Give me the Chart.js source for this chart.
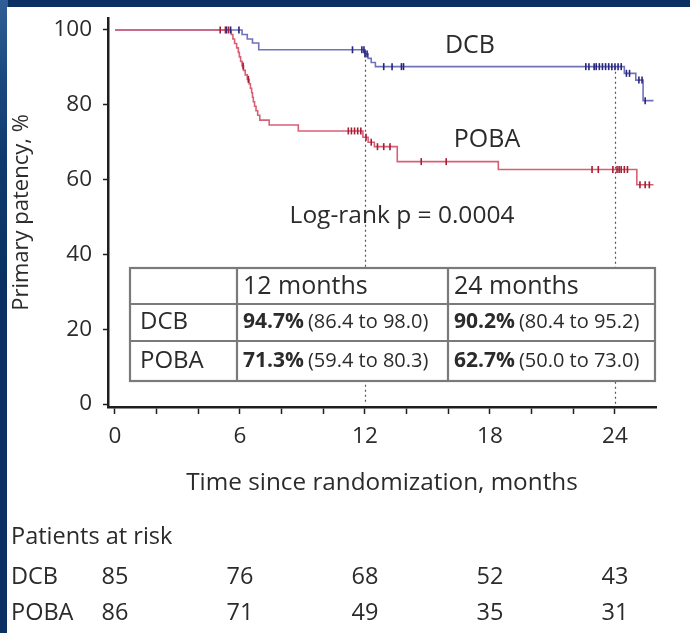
<!DOCTYPE html>
<html>
<head>
<meta charset="utf-8">
<script src="https://cdn.jsdelivr.net/npm/chart.js@4.4.1/dist/chart.umd.min.js"></script>
<style>
  html, body { margin: 0; padding: 0; }
  body { width: 690px; height: 633px; overflow: hidden; position: relative; background: #0b3163; }
  #edge { position: absolute; left: 0; top: 0; width: 8px; height: 633px;
          background: linear-gradient(170deg, #2f5f96 0%, #1b4a80 12%, #0f3a6e 25%, #0b3163 45%, #0b3163 100%); }
  #panel { position: absolute; left: 7px; top: 7px; right: 0; bottom: 0; background: #ffffff; }
  #wrap { position: absolute; left: 0; top: 0; width: 690px; height: 633px; }
</style>
</head>
<body>
<div id="edge"></div>
<div id="panel"></div>
<div id="wrap"><canvas id="km" width="690" height="633"></canvas></div>
<script>
// Kaplan-Meier estimates: month of each step and survival (%) after the step
const dcbMonths = [0, 6.1, 6.35, 6.6, 6.9, 12.0, 12.15, 12.3, 12.5, 24.45, 25.0, 25.35, 25.85];
const dcbPatency = [100, 98.8, 97.6, 96.5, 94.7, 93.6, 92.4, 91.3, 90.2, 88.4, 86.6, 81.1, 81.1];

const pobaMonths = [0, 5.58, 5.66, 5.74, 5.84, 5.92, 5.97, 6.03, 6.1, 6.17, 6.25, 6.35, 6.44, 6.5, 6.56,
                    6.6, 6.64, 6.7, 6.77, 6.85, 6.95, 7.4, 8.8, 11.9, 12.15, 12.45, 13.55, 18.4, 25.05, 25.85];
const pobaPatency = [100, 98.8, 97.6, 96.4, 95.2, 94.0, 92.8, 91.6, 90.4, 89.2, 88.0, 86.8, 85.6, 84.4, 83.2,
                     82.0, 80.8, 79.6, 78.4, 77.2, 75.9, 74.6, 73.0, 71.3, 70.0, 68.8, 64.8, 62.7, 58.6, 58.6];

// Censoring times (months)
const dcbCensored = [5.35, 5.55, 5.95, 11.4, 11.85, 11.95, 12.0, 12.1, 12.9, 13.3, 13.75, 13.85,
                     22.6, 22.75, 23.0, 23.1, 23.25, 23.4, 23.55, 23.7, 23.85, 24.0, 24.15, 24.3,
                     24.55, 24.7, 25.15, 25.3, 25.45];
const pobaCensored = [5.05, 5.3, 5.45, 6.15, 6.4, 11.2, 11.35, 11.5, 11.65, 11.8, 12.05, 12.3, 12.6,
                      12.9, 13.2, 14.7, 15.9, 22.9, 23.2, 23.9, 24.1, 24.2, 24.3, 24.45, 24.6,
                      25.2, 25.45, 25.65];

// Axis ticks
const monthTicks = [0, 2, 4, 6, 8, 10, 12, 14, 16, 18, 20, 22, 24];
const monthLabels = [0, 6, 12, 18, 24];
const patencyTicks = [0, 20, 40, 60, 80, 100];
const landmarkMonths = [12, 24];

// Inset table
const tableHeads = ['12 months', '24 months'];
const groupNames = ['DCB', 'POBA'];
const landmarkRates = [['94.7%', '90.2%'], ['71.3%', '62.7%']];
const landmarkCI = [['(86.4 to 98.0)', '(80.4 to 95.2)'], ['(59.4 to 80.3)', '(50.0 to 73.0)']];

// Numbers at risk
const riskMonths = [0, 6, 12, 18, 24];
const dcbAtRisk = [85, 76, 68, 52, 43];
const pobaAtRisk = [86, 71, 49, 35, 31];

const FONT = "'Open Sans', sans-serif";
const TEXT = '#2b2b2b';
const BLUE_LINE = '#7272ba', BLUE_MARK = '#25257e';
const RED_LINE = '#da5f76', RED_MARK = '#a31d33';

function pts(xs, ys) { return xs.map((x, i) => ({ x: x, y: ys[i] })); }
function valueAt(xs, ys, t) {
  let v = ys[0];
  for (let i = 0; i < xs.length; i++) { if (xs[i] <= t) v = ys[i]; }
  return v;
}
function censorPts(times, xs, ys) { return times.map(t => ({ x: t, y: valueAt(xs, ys, t) })); }

const overlay = {
  id: 'overlay',
  beforeDatasetsDraw(chart) {
    const { ctx, scales: { x, y } } = chart;
    ctx.save();
    ctx.strokeStyle = '#555';
    ctx.lineWidth = 1.2;
    ctx.setLineDash([2, 3]);
    landmarkMonths.forEach(m => {
      const px = Math.round(x.getPixelForValue(m)) + 0.5;
      ctx.beginPath();
      ctx.moveTo(px, y.getPixelForValue(valueAt(dcbMonths, dcbPatency, m - 0.01)));
      ctx.lineTo(px, y.getPixelForValue(0));
      ctx.stroke();
    });
    ctx.restore();
  },
  afterDatasetsDraw(chart) {
    const { ctx, scales: { x } } = chart;
    ctx.save();
    ctx.fillStyle = TEXT;
    ctx.textBaseline = 'middle';
    ctx.textAlign = 'center';
    ctx.font = `25px ${FONT}`;
    ctx.fillText('DCB', 470, 46);
    ctx.fillText('POBA', 487, 140);
    ctx.font = `24.5px ${FONT}`;
    ctx.fillText('Log-rank p = 0.0004', 402, 216);

    // inset table
    const L = 130, R = 655, T = 268, B = 381;
    const cols = [L, 237, 448, R];
    const rows = [T, 304, 341, B];
    ctx.fillStyle = '#fff';
    ctx.fillRect(L, T, R - L, B - T);
    ctx.strokeStyle = '#7a7a7a';
    ctx.lineWidth = 2.2;
    ctx.strokeRect(L, T, R - L, B - T);
    ctx.beginPath();
    rows.slice(1, 3).forEach(r => { ctx.moveTo(L, r); ctx.lineTo(R, r); });
    cols.slice(1, 3).forEach(c => { ctx.moveTo(c, T); ctx.lineTo(c, B); });
    ctx.stroke();

    ctx.fillStyle = TEXT;
    ctx.textAlign = 'left';
    ctx.font = `25px ${FONT}`;
    tableHeads.forEach((h, j) => ctx.fillText(h, cols[j + 1] + 6, (rows[0] + rows[1]) / 2 + 1));
    groupNames.forEach((g, i) => {
      const cy = (rows[i + 1] + rows[i + 2]) / 2;
      ctx.font = `24px ${FONT}`;
      ctx.fillText(g, L + 10, cy);
      landmarkRates[i].forEach((r, j) => {
        let cx = cols[j + 1] + 6;
        ctx.font = `bold 21px ${FONT}`;
        ctx.fillText(r, cx, cy);
        cx += ctx.measureText(r).width + 4;
        ctx.font = `20px ${FONT}`;
        ctx.fillText(landmarkCI[i][j], cx, cy);
      });
    });

    // numbers at risk
    ctx.font = `23.5px ${FONT}`;
    ctx.textAlign = 'left';
    ctx.fillText('Patients at risk', 11, 537);
    ctx.fillText('DCB', 11, 577);
    ctx.fillText('POBA', 11, 613);
    ctx.textAlign = 'center';
    riskMonths.forEach((m, i) => {
      const px = x.getPixelForValue(m);
      ctx.fillText(String(dcbAtRisk[i]), px, 577);
      ctx.fillText(String(pobaAtRisk[i]), px, 613);
    });
    ctx.restore();
  }
};

new Chart(document.getElementById('km'), {
  type: 'line',
  data: {
    datasets: [
      { label: 'DCB', data: pts(dcbMonths, dcbPatency), stepped: 'before',
        borderColor: BLUE_LINE, borderWidth: 1.6, pointRadius: 0, fill: false, order: 3 },
      { label: 'POBA', data: pts(pobaMonths, pobaPatency), stepped: 'before',
        borderColor: RED_LINE, borderWidth: 1.6, pointRadius: 0, fill: false, order: 2 },
      { label: 'DCB censored', data: censorPts(dcbCensored, dcbMonths, dcbPatency), showLine: false,
        pointStyle: 'line', rotation: 90, pointRadius: 3.5, borderColor: BLUE_MARK, borderWidth: 1.6, order: 1 },
      { label: 'POBA censored', data: censorPts(pobaCensored, pobaMonths, pobaPatency), showLine: false,
        pointStyle: 'line', rotation: 90, pointRadius: 3.5, borderColor: RED_MARK, borderWidth: 1.6, order: 0 }
    ]
  },
  options: {
    responsive: false,
    animation: false,
    events: [],
    layout: { padding: { left: 0, top: 18, right: 34, bottom: 126 } },
    plugins: { legend: { display: false }, tooltip: { enabled: false } },
    scales: {
      x: {
        type: 'linear', min: -0.336, max: 25.97,
        afterFit(scale) { scale.height = 100; scale.paddingLeft = 0; scale.paddingRight = 0; },
        afterBuildTicks(scale) { scale.ticks = monthTicks.map(v => ({ value: v })); },
        border: { display: true, color: '#1e1e1e', width: 2.5 },
        grid: { drawOnChartArea: false, drawTicks: true, tickLength: 7, tickColor: '#1e1e1e', tickWidth: 1.5 },
        ticks: {
          autoSkip: false, maxRotation: 0, padding: 9, color: TEXT,
          font: { family: FONT, size: 22.5 },
          callback: v => monthLabels.includes(v) ? String(v) : ''
        },
        title: { display: true, text: 'Time since randomization, months', color: TEXT,
                 font: { family: FONT, size: 24.3 }, padding: { bottom: 9, top: 0 } }
      },
      y: {
        type: 'linear', min: -0.8, max: 103.2,
        afterFit(scale) { scale.width = 108; scale.paddingTop = 0; scale.paddingBottom = 0; },
        afterBuildTicks(scale) { scale.ticks = patencyTicks.map(v => ({ value: v })); },
        border: { display: true, color: '#1e1e1e', width: 2.5 },
        grid: { drawOnChartArea: false, drawTicks: true, tickLength: 5, tickColor: '#1e1e1e', tickWidth: 1.5 },
        ticks: { padding: 11, color: TEXT, font: { family: FONT, size: 22.5 } },
        title: { display: true, text: 'Primary patency, %', color: TEXT,
                 font: { family: FONT, size: 22 }, padding: { top: 9, bottom: 0 } }
      }
    }
  },
  plugins: [overlay]
});
</script>
</body>
</html>
